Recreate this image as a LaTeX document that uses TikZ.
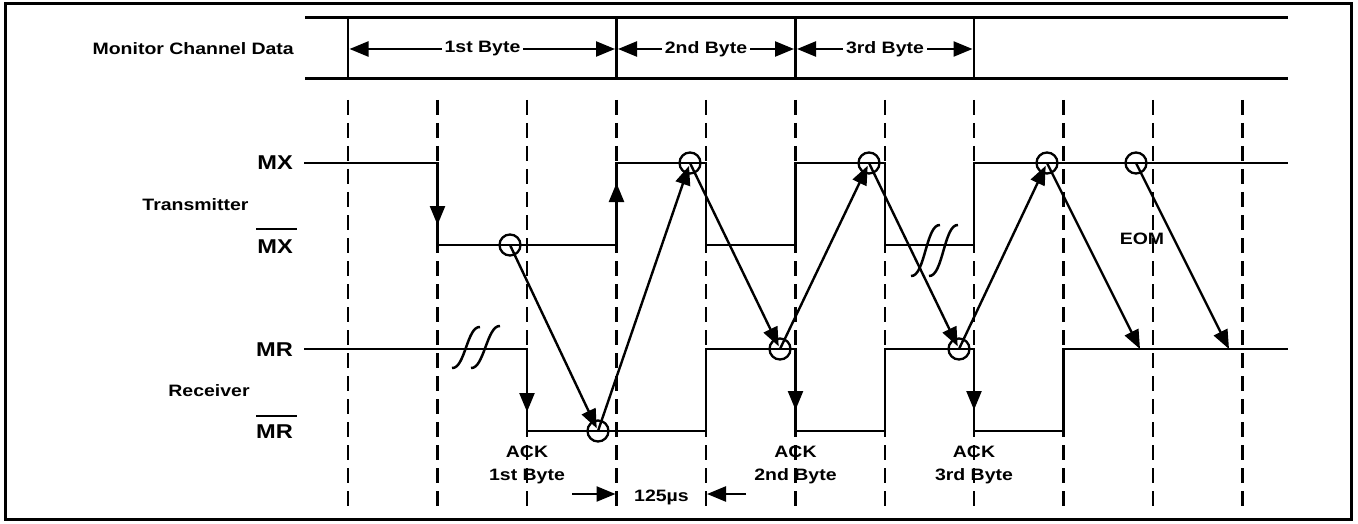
\documentclass[tikz,border=0pt]{standalone}
\usepackage{fontspec}
\setmainfont{Liberation Sans}
\usepackage{graphicx}
\usetikzlibrary{arrows.meta}
\newcommand\sx[1]{\scalebox{1.18}[1]{#1}}
\begin{document}
\begin{tikzpicture}[x=1pt,y=-1pt,
  sig/.style={line width=2.7pt},
  arr/.style={line width=2.4pt,-{Triangle[length=19pt,width=15pt]}},
  dsh/.style={line width=2.6pt,dash pattern=on 15pt off 8pt},
  circ/.style={circle,draw,line width=2.3pt,minimum size=21pt,inner sep=0pt},
  lbl/.style={font=\fontsize{16.5}{19}\selectfont\bfseries,inner sep=0pt},
  big/.style={font=\fontsize{20}{23}\selectfont\bfseries,inner sep=0pt},
  sq/.style={line width=2.5pt}]
\useasboundingbox (0,0) rectangle (1358,524);
\draw[line width=3pt] (5,3.5) rectangle (1351,519.5);
% dashed grid
\foreach \x in {348,437.5,527,616.5,706,795.5,885,974,1063.5,1153,1242.5}
  \draw[dsh] (\x,100) -- (\x,513);
% band
\draw[line width=3pt] (305,18) -- (1288,18);
\draw[line width=3pt] (305,79) -- (1288,79);
\foreach \x in {348,616.5,795.5,974}
  \draw[line width=2.6pt] (\x,18) -- (\x,79);
\node[lbl,anchor=base east] (mcd) at (294,54.5) {\sx{Monitor Channel Data}};
\coordinate (b0) at (349.5,49);
\coordinate (b1) at (615,49);
\coordinate (b1r) at (618,49);
\coordinate (b2) at (794,49);
\coordinate (b2r) at (797,49);
\coordinate (b3) at (972.5,49);
\draw[arr] (482.5,49) -- (b0);
\draw[arr] (482.5,49) -- (b1);
\draw[arr] (706,49) -- (b1r);
\draw[arr] (706,49) -- (b2);
\draw[arr] (885,49) -- (b2r);
\draw[arr] (885,49) -- (b3);
\node[lbl,fill=white,inner xsep=3pt,inner ysep=1pt] (t1) at (482.5,49) {\sx{1st Byte}};
\node[lbl,fill=white,inner xsep=3pt,inner ysep=1pt] (t2) at (706,49) {\sx{2nd Byte}};
\node[lbl,fill=white,inner xsep=3pt,inner ysep=1pt] (t3) at (885,49) {\sx{3rd Byte}};
% labels
\node[big,anchor=base east] (lmx) at (293,170) {\sx{MX}};
\node[lbl,anchor=base] (ltx) at (195.5,211) {\sx{Transmitter}};
\node[big,anchor=base east] (lmxb) at (293,253) {\sx{MX}};
\draw[line width=2.5pt] (256,229) -- (297,229);
\node[big,anchor=base east] (lmr) at (293,356.5) {\sx{MR}};
\node[lbl,anchor=base] (lrx) at (209,396.5) {\sx{Receiver}};
\node[big,anchor=base east] (lmrb) at (293,438) {\sx{MR}};
\draw[line width=2.5pt] (256,416) -- (297,416);
% MX signal
\draw[sig] (304,163) -- (437.5,163) -- (437.5,245) -- (616.5,245) -- (616.5,163)
  -- (706,163) -- (706,245) -- (795.5,245) -- (795.5,163) -- (885,163) -- (885,245)
  -- (974,245) -- (974,163) -- (1288,163);
% MR signal
\draw[sig] (304,349) -- (527,349) -- (527,431) -- (706,431) -- (706,349)
  -- (795.5,349) -- (795.5,431) -- (885,431) -- (885,349) -- (974,349) -- (974,431)
  -- (1063.5,431) -- (1063.5,349) -- (1288,349);
% edge arrows
\draw[arr] (437.5,190) -- (437.5,225);
\draw[arr] (616.5,220) -- (616.5,183);
\draw[arr] (527,380) -- (527,412);
\draw[arr] (795.5,380) -- (795.5,410);
\draw[arr] (974,380) -- (974,410);
% squiggles
\draw[sq] (452,368) .. controls (465,369) and (467,326) .. (480,327);
\draw[sq] (471,368) .. controls (484,369) and (487,325) .. (500,326);
\draw[sq] (911,276) .. controls (925,277) and (926,224) .. (940,225);
\draw[sq] (929,276) .. controls (943,277) and (944,224) .. (958,225);
% circles
\node[circ] (c1) at (510,245) {};
\node[circ] (c2) at (598,431) {};
\node[circ] (c3) at (690,163) {};
\node[circ] (c4) at (780,349) {};
\node[circ] (c5) at (869,163) {};
\node[circ] (c6) at (959,349) {};
\node[circ] (c7) at (1047,163) {};
\node[circ] (c8) at (1136,163) {};
\coordinate (e7) at (1140,349);
\coordinate (e8) at (1229,349);
% handshake arrows
\draw[arr,shorten >=3pt] (c1.center) -- (c2.center);
\draw[arr,shorten >=3pt] (c2.center) -- (c3.center);
\draw[arr,shorten >=3pt] (c3.center) -- (c4.center);
\draw[arr,shorten >=3pt] (c4.center) -- (c5.center);
\draw[arr,shorten >=3pt] (c5.center) -- (c6.center);
\draw[arr,shorten >=3pt] (c6.center) -- (c7.center);
\draw[arr] (c7.center) -- (e7);
\draw[arr] (c8.center) -- (e8);
% bottom labels
\node[lbl,anchor=base] (ack1) at (527,457.5) {\sx{ACK}};
\node[lbl,anchor=base] (by1) at (527,480) {\sx{1st Byte}};
\node[lbl,anchor=base] (ack2) at (795.5,457.5) {\sx{ACK}};
\node[lbl,anchor=base] (by2) at (795.5,480) {\sx{2nd Byte}};
\node[lbl,anchor=base] (ack3) at (974,457.5) {\sx{ACK}};
\node[lbl,anchor=base] (by3) at (974,480) {\sx{3rd Byte}};
\node[lbl,anchor=base] (eom) at (1142,244) {\sx{EOM}};
\node[lbl,anchor=base] (us) at (661.5,501.5) {\sx{125µs}};
\coordinate (u0) at (572,494);
\coordinate (u1) at (615.5,494);
\coordinate (u2) at (746,494);
\coordinate (u3) at (707,494);
\draw[arr] (u0) -- (u1);
\draw[arr] (u2) -- (u3);
\end{tikzpicture}
\end{document}
